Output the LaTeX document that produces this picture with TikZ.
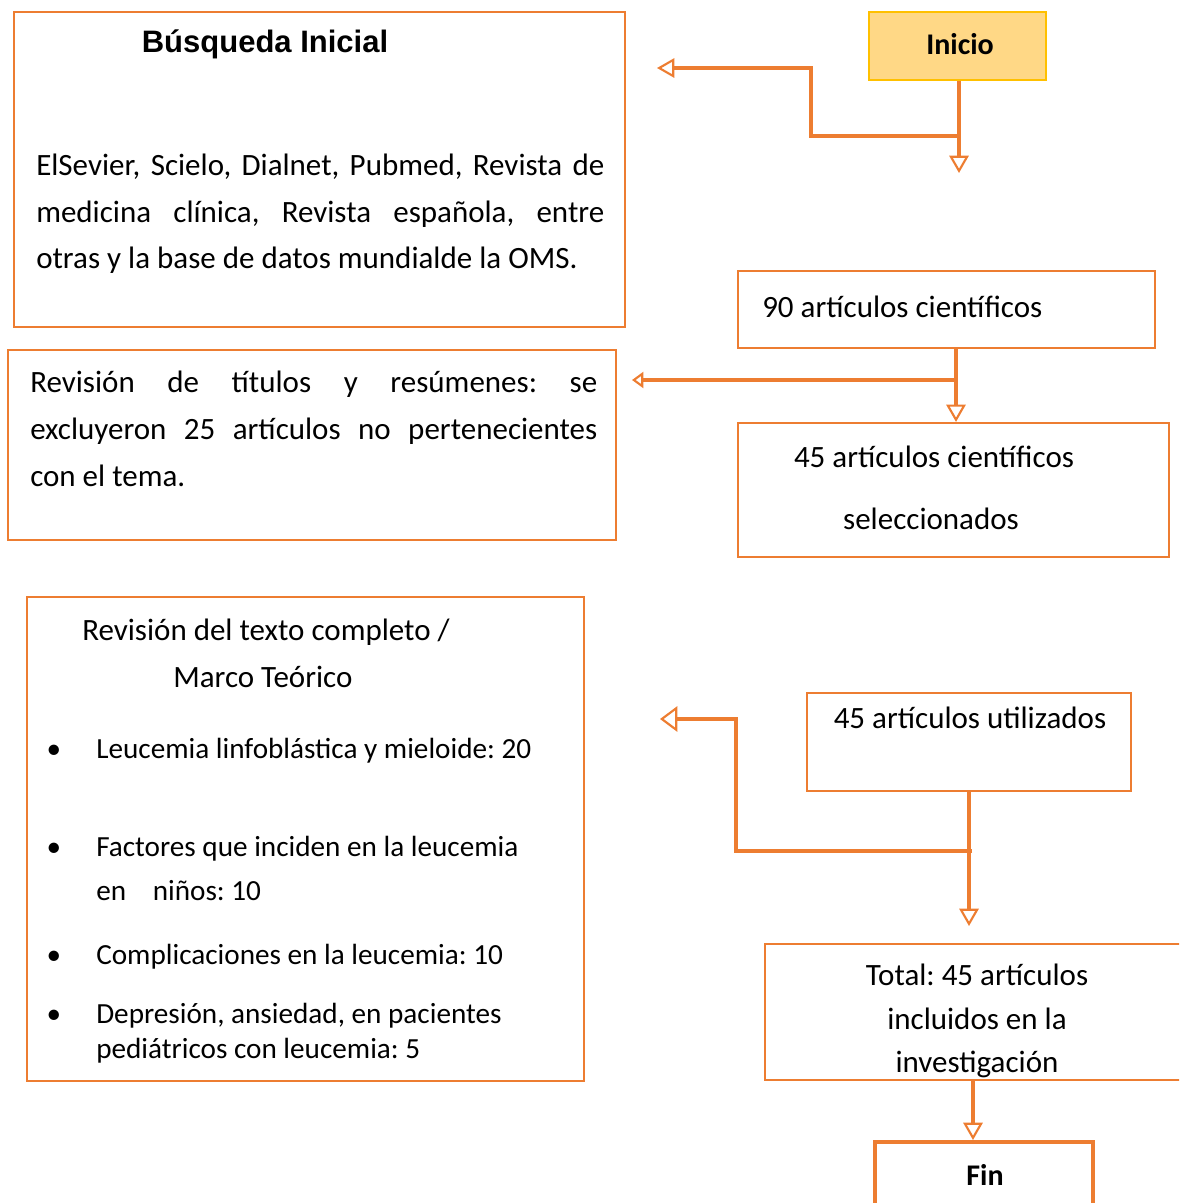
\documentclass[tikz,border=0pt]{standalone}
\usepackage{fontspec}
\setmainfont{Carlito}
\newfontfamily\arialfont{Liberation Sans}
\usetikzlibrary{arrows.meta,fit}
\definecolor{org}{HTML}{ED7D31}
\definecolor{goldline}{HTML}{FFC000}
\definecolor{inifill}{HTML}{FFD886}
\newcommand\bigtxt{\fontsize{23.25pt}{35.25pt}\selectfont}
\newcommand\listtxt{\fontsize{21.9pt}{26pt}\selectfont}
\frenchspacing
\begin{document}
\frenchspacing
\begin{tikzpicture}[x=0.75pt,y=-0.75pt,
  box/.style={draw=org,line width=1.6pt,inner sep=0pt},
  txt/.style={inner sep=0pt,font=\bigtxt,anchor=base west},
  ctxt/.style={inner sep=0pt,font=\bigtxt,anchor=base},
  ltxt/.style={inner sep=0pt,font=\listtxt,anchor=base west},
  bul/.style={inner sep=0pt,font=\listtxt,anchor=base},
  conn/.style={draw=org,line width=2.7pt},
  tipA/.style={-{Triangle[open,length=13pt,width=14.5pt,line width=1.6pt]}},
  tipS/.style={-{Triangle[open,length=8.5pt,width=12pt,line width=1.6pt]}},
  tipL/.style={-{Triangle[open,length=13pt,width=19pt,line width=1.6pt]}}]
\useasboundingbox (0,0) rectangle (1179,1203);
\clip (0,0) rectangle (1179,1203);

% boxes
\node[box,fit={(14,12)(625,327)}] (busq) {};
\node[draw=goldline,fill=inifill,line width=1.4pt,inner sep=0pt,fit={(869,12)(1046,80)}] (inicio) {};
\node[box,fit={(738,271)(1155,348)}] (n90) {};
\node[box,fit={(8,350)(616,540)}] (rev1) {};
\node[box,fit={(738,423)(1169,557)}] (sel) {};
\node[box,fit={(27,597)(584,1081)}] (rev2) {};
\node[box,fit={(807,693)(1131,791)}] (util) {};
\node[box,fit={(765,944)(1200,1080)}] (total) {};
\node[box,line width=3pt,fit={(875,1142)(1093,1230)}] (fin) {};

% texts
\node[ctxt,font=\arialfont\bfseries\bigtxt] (t-busq) at (265,52) {Búsqueda Inicial};
\node[txt] (t-b1) at (36,175) {\makebox[426pt][s]{ElSevier, Scielo, Dialnet, Pubmed, Revista de}};
\node[txt] (t-b2) at (36,222) {\makebox[426pt][s]{medicina clínica, Revista española, entre}};
\node[txt] (t-b3) at (36,268) {otras y la base de datos mundialde la OMS.};

\node[ctxt,font=\bfseries\fontsize{22.5pt}{27pt}\selectfont] (t-ini) at (960,54) {Inicio};
\node[txt] (t-90) at (762,317) {90 artículos científicos};

\node[txt] (t-r1) at (30,392) {\makebox[425.25pt][s]{Revisión de títulos y resúmenes: se}};
\node[txt] (t-r2) at (30,439) {\makebox[425.25pt][s]{excluyeron 25 artículos no pertenecientes}};
\node[txt] (t-r3) at (30,486) {con el tema.};

\node[ctxt] (t-s1) at (934,467) {45 artículos científicos};
\node[ctxt] (t-s2) at (931,529) {seleccionados};

\node[txt] (t-h1) at (82,640) {Revisión del texto completo /};
\node[txt] (t-h2) at (173,687) {Marco Teórico};

\node[bul] (b1) at (54,758) {•};
\node[ltxt] (l1) at (96,758) {Leucemia linfoblástica y mieloide: 20};
\node[bul] (b2) at (54,856) {•};
\node[ltxt] (l2) at (96,856) {Factores que inciden en la leucemia};
\node[ltxt] (l2b) at (96,900) {en\hspace{20pt}niños: 10};
\node[bul] (b3) at (54,964) {•};
\node[ltxt] (l3) at (96,964) {Complicaciones en la leucemia: 10};
\node[bul] (b4) at (54,1023) {•};
\node[ltxt] (l4) at (96,1023) {Depresión, ansiedad, en pacientes};
\node[ltxt] (l4b) at (96,1058) {pediátricos con leucemia: 5};

\node[ctxt] (t-u) at (970,728) {45 artículos utilizados};

\node[ctxt] (t-t1) at (977,985) {Total: 45 artículos};
\node[ctxt] (t-t2) at (977,1029) {incluidos en la};
\node[ctxt] (t-t3) at (977,1072) {investigación};

\node[ctxt,font=\bfseries\fontsize{22.5pt}{27pt}\selectfont] (t-fin) at (985,1185) {Fin};

% connector coordinates
\coordinate (j1) at (959,136);
\coordinate (e1) at (959,173);
\coordinate (k1) at (811,68);
\coordinate (e2) at (657,68);
\coordinate (j2) at (956,380);
\coordinate (e3) at (632,380);
\coordinate (j3) at (969,851);
\coordinate (e4) at (969,926);
\coordinate (k3) at (736,719);
\coordinate (e5) at (660,719);
\coordinate (x4) at (973,1100);

% connectors
\draw[conn,tipA] (inicio.south -| j1) -- (e1);
\draw[conn,tipA] (j1) -| (k1) -- (e2);
\draw[conn,tipA] (j2 |- n90.south) -- (j2 |- sel.north);
\draw[conn,tipS] (j2) -- (e3);
\draw[conn,tipA] (util.south) -- (e4);
\draw[conn,tipL] ([xshift=2.25pt]j3) -| (k3) -- (e5);
\draw[conn,tipA] (x4 |- total.south) -- (x4 |- fin.north);
\end{tikzpicture}
\end{document}
